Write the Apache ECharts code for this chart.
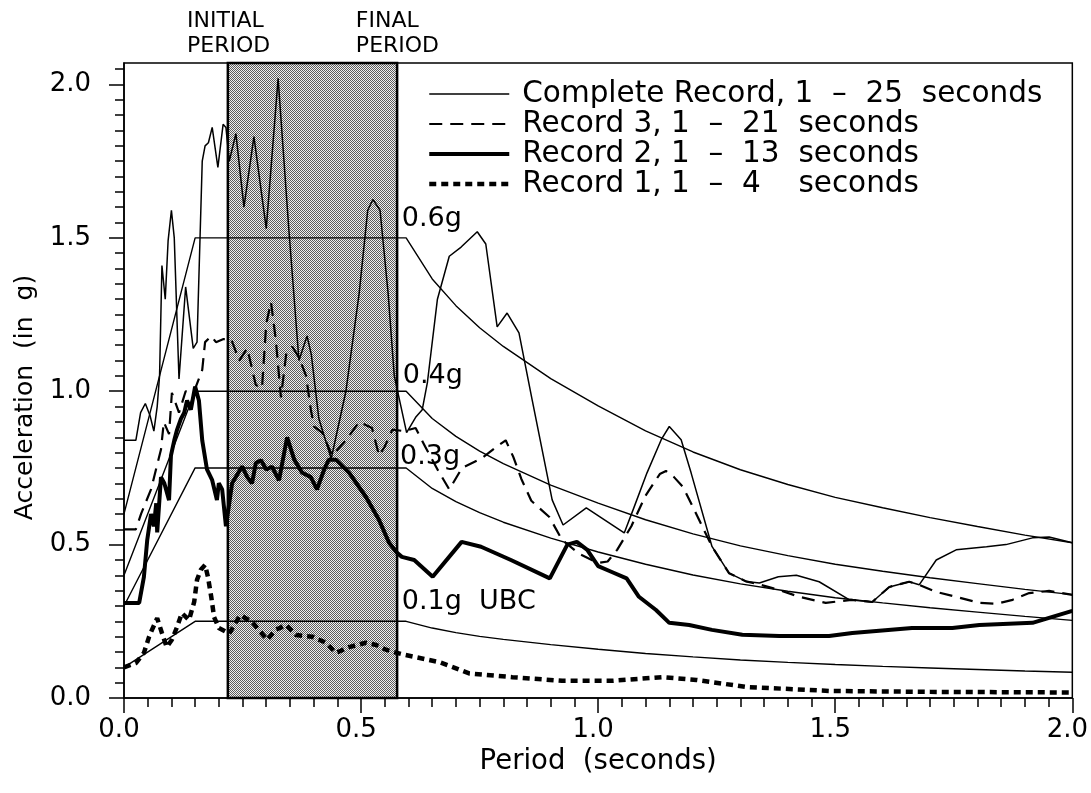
<!DOCTYPE html>
<html><head><meta charset="utf-8">
<script src="https://cdn.jsdelivr.net/npm/echarts@6/dist/echarts.min.js"></script>
<style>html,body{margin:0;padding:0;background:#fff}#c{width:1091px;height:793px}</style>
</head><body><div id="c"></div>
<script>
// ---- data ----
const completeT = [0,0.025,0.035,0.045,0.055,0.063,0.07,0.075,0.08,0.087,0.093,0.1,0.106,0.116,0.13,0.146,0.154,0.165,0.171,0.178,0.186,0.198,0.209,0.215,0.222,0.236,0.253,0.274,0.3,0.325,0.348,0.369,0.386,0.395,0.411,0.437,0.468,0.496,0.514,0.525,0.54,0.557,0.57,0.596,0.616,0.629,0.64,0.661,0.686,0.711,0.745,0.763,0.787,0.808,0.833,0.861,0.903,0.926,0.975,1.055,1.076,1.103,1.133,1.15,1.175,1.196,1.24,1.276,1.312,1.34,1.38,1.418,1.466,1.53,1.578,1.614,1.656,1.677,1.713,1.755,1.819,1.86,1.916,1.951,2.0];
const completeA = [0.84,0.84,0.93,0.96,0.92,0.87,0.95,1.05,1.41,1.30,1.49,1.59,1.50,1.04,1.34,1.14,1.16,1.75,1.80,1.81,1.86,1.73,1.87,1.86,1.75,1.84,1.60,1.83,1.53,2.02,1.52,1.10,1.18,1.12,0.91,0.78,1.00,1.32,1.59,1.625,1.59,1.32,1.05,0.865,0.917,0.94,1.03,1.30,1.44,1.47,1.52,1.48,1.21,1.255,1.19,0.97,0.646,0.564,0.62,0.538,0.623,0.734,0.842,0.885,0.842,0.734,0.494,0.407,0.38,0.375,0.395,0.40,0.379,0.32,0.313,0.362,0.379,0.369,0.45,0.483,0.493,0.50,0.522,0.525,0.506];

const rec3T = [0,0.025,0.036,0.057,0.078,0.084,0.095,0.101,0.116,0.13,0.148,0.165,0.171,0.184,0.194,0.21,0.226,0.243,0.26,0.278,0.291,0.3,0.31,0.32,0.331,0.342,0.355,0.369,0.384,0.394,0.401,0.418,0.439,0.468,0.496,0.523,0.538,0.55,0.566,0.59,0.615,0.635,0.663,0.686,0.713,0.753,0.791,0.805,0.821,0.838,0.859,0.897,0.924,0.96,1.0,1.02,1.04,1.07,1.1,1.13,1.143,1.16,1.179,1.21,1.24,1.276,1.312,1.34,1.382,1.424,1.48,1.534,1.578,1.614,1.656,1.677,1.713,1.762,1.804,1.84,1.874,1.909,1.951,2.0];
const rec3A = [0.55,0.55,0.60,0.68,0.81,0.90,0.86,0.995,0.93,1.0,1.0,1.07,1.16,1.18,1.16,1.17,1.17,1.10,1.14,1.02,1.01,1.22,1.29,1.17,0.98,1.12,1.145,1.11,1.05,0.94,0.885,0.865,0.79,0.84,0.90,0.88,0.79,0.82,0.875,0.87,0.88,0.82,0.74,0.68,0.75,0.78,0.825,0.84,0.786,0.714,0.643,0.59,0.515,0.47,0.44,0.445,0.483,0.56,0.66,0.73,0.74,0.72,0.688,0.59,0.494,0.407,0.38,0.37,0.352,0.33,0.31,0.32,0.313,0.362,0.379,0.369,0.346,0.327,0.31,0.307,0.32,0.342,0.349,0.336];

const rec2T = [0,0.032,0.042,0.049,0.057,0.063,0.068,0.07,0.078,0.085,0.095,0.099,0.106,0.112,0.12,0.127,0.133,0.141,0.15,0.158,0.165,0.175,0.186,0.196,0.2,0.207,0.215,0.228,0.249,0.26,0.27,0.278,0.289,0.3,0.312,0.327,0.344,0.359,0.376,0.394,0.407,0.422,0.432,0.447,0.475,0.51,0.538,0.559,0.576,0.586,0.612,0.651,0.712,0.753,0.816,0.898,0.935,0.955,0.977,1.0,1.03,1.06,1.086,1.122,1.15,1.192,1.24,1.304,1.382,1.487,1.536,1.662,1.747,1.804,1.916,2.0];
const rec2A = [0.31,0.31,0.395,0.515,0.60,0.56,0.635,0.54,0.72,0.70,0.645,0.79,0.84,0.875,0.91,0.93,0.97,0.94,1.015,0.97,0.84,0.745,0.71,0.645,0.70,0.68,0.56,0.70,0.755,0.72,0.70,0.766,0.775,0.745,0.754,0.71,0.85,0.777,0.734,0.72,0.68,0.744,0.777,0.777,0.734,0.656,0.58,0.506,0.473,0.46,0.45,0.395,0.509,0.493,0.45,0.39,0.50,0.509,0.483,0.43,0.41,0.39,0.33,0.287,0.245,0.238,0.222,0.206,0.202,0.202,0.212,0.228,0.228,0.238,0.245,0.284];

const rec1T = [0,0.025,0.042,0.053,0.059,0.07,0.08,0.09,0.101,0.112,0.122,0.137,0.148,0.154,0.162,0.171,0.177,0.184,0.19,0.2,0.222,0.245,0.27,0.302,0.32,0.342,0.363,0.397,0.426,0.447,0.475,0.51,0.532,0.553,0.576,0.594,0.665,0.728,0.819,0.924,1.03,1.135,1.207,1.312,1.487,1.7,2.0];
const rec1A = [0.10,0.114,0.147,0.20,0.222,0.26,0.212,0.166,0.19,0.232,0.277,0.254,0.313,0.385,0.418,0.434,0.395,0.33,0.264,0.228,0.21,0.27,0.248,0.19,0.222,0.238,0.205,0.20,0.18,0.147,0.166,0.18,0.173,0.157,0.147,0.14,0.117,0.08,0.068,0.056,0.056,0.068,0.059,0.036,0.023,0.02,0.018];

const ubcT  = [0,0.15,0.595,0.65,0.7,0.75,0.8,0.9,1.0,1.1,1.2,1.3,1.4,1.5,1.6,1.7,1.8,1.9,2.0];
const ubc06 = [0.6,1.5,1.5,1.366,1.279,1.207,1.146,1.041,0.952,0.871,0.802,0.744,0.696,0.654,0.62,0.588,0.559,0.531,0.506];
const ubc04 = [0.4,1.0,1.0,0.911,0.853,0.805,0.764,0.694,0.635,0.581,0.535,0.496,0.464,0.436,0.413,0.392,0.373,0.354,0.337];
const ubc03 = [0.3,0.75,0.75,0.683,0.64,0.604,0.573,0.521,0.476,0.436,0.401,0.372,0.348,0.327,0.31,0.294,0.28,0.266,0.253];
const ubc01 = [0.1,0.25,0.25,0.228,0.213,0.201,0.191,0.174,0.159,0.145,0.134,0.124,0.116,0.109,0.103,0.098,0.093,0.088,0.084];

const shadeBand = [0.219, 0.576];           // INITIAL .. FINAL period
const xMajorTicks = [0, 0.5, 1.0, 1.5, 2.0];
const yMajorTicks = [0, 0.5, 1.0, 1.5, 2.0];
const legendNames = ['Complete Record, 1  –  25  seconds','Record 3, 1  –  21  seconds','Record 2, 1  –  13  seconds','Record 1, 1  –  4    seconds'];
const ubcLabels = ['0.6g','0.4g','0.3g','0.1g  UBC'];

// ---- build ----
const zip = (t,a) => t.map((x,i)=>[x,a[i]]);
const xMinorTicks = []; for (let i=0;i<=40;i++) xMinorTicks.push(+(i*0.05).toFixed(2));
const yMinorTicks = []; for (let i=0;i<=41;i++) yMinorTicks.push(+(i*0.05).toFixed(2));

const pat = document.createElement('canvas'); pat.width = 2; pat.height = 2;
const pc = pat.getContext('2d');
pc.fillStyle = '#f0f0f0'; pc.fillRect(0,0,2,2);
pc.fillStyle = '#5c5c5c'; pc.fillRect(0,0,1,1); pc.fillRect(1,1,1,1);

const FONT = 'DejaVu Sans';
const blk = '#000';
const ubcSeries = (d) => ({type:'line', data: zip(ubcT,d), symbol:'none', silent:true, z:3,
  lineStyle:{color:blk, width:1.4}});

const chart = echarts.init(document.getElementById('c'), null, {renderer:'canvas'});
const option = {
  animation:false,
  backgroundColor:'#fff',
  grid:{left:124, right:18, top:63, bottom:95, show:true, borderColor:blk, borderWidth:1.5, backgroundColor:'transparent'},
  legend:{
    data: legendNames, orient:'vertical', left:422, top:74, itemWidth:80, itemHeight:12, itemGap:0,
    selectedMode:false,
    itemStyle:{opacity:0},
    lineStyle:{width:'inherit', type:'inherit', color:'inherit'},
    textStyle:{fontFamily:FONT, fontSize:29.5, color:blk, lineHeight:29, padding:[0,0,0,8]}
  },
  xAxis:[
    {type:'value', min:0, max:2, interval:0.5, position:'bottom',
     axisLine:{show:true, lineStyle:{color:blk, width:1.5}},
     axisTick:{show:true, customValues:xMajorTicks, length:15, lineStyle:{color:blk, width:1.5}},
     axisLabel:{customValues:xMajorTicks, formatter:v=>v.toFixed(1), color:blk, fontFamily:FONT, fontSize:26, margin:19, padding:[0,10,0,0]},
     splitLine:{show:false},
     name:'Period  (seconds)', nameLocation:'middle', nameGap:48,
     nameTextStyle:{fontFamily:FONT, fontSize:27.5, color:blk}},
    {type:'value', min:0, max:2, interval:0.05, position:'bottom',
     axisLine:{show:false}, axisTick:{show:true, customValues:xMinorTicks, length:9, lineStyle:{color:blk, width:1.5}},
     axisLabel:{show:false}, splitLine:{show:false}}
  ],
  yAxis:[
    {type:'value', min:0, max:2.07, interval:0.5, position:'left',
     axisLine:{show:true, lineStyle:{color:blk, width:1.5}},
     axisTick:{show:true, customValues:yMajorTicks, length:15, lineStyle:{color:blk, width:1.5}},
     axisLabel:{customValues:yMajorTicks, formatter:v=>v.toFixed(1), color:blk, fontFamily:FONT, fontSize:26, margin:33, showMaxLabel:true},
     splitLine:{show:false},
     name:'Acceleration  (in  g)', nameLocation:'middle', nameGap:86,
     nameTextStyle:{fontFamily:FONT, fontSize:25, color:blk, padding:[0,34,0,0]}},
    {type:'value', min:0, max:2.07, interval:0.05, position:'left', offset:0,
     axisLine:{show:false}, axisTick:{show:true, customValues:yMinorTicks, length:9, lineStyle:{color:blk, width:1.5}},
     axisLabel:{show:false}, splitLine:{show:false}}
  ],
  series:[
    {type:'line', name:'shade', data:[[shadeBand[0], 0]], symbol:'none', silent:true, z:1,
     lineStyle:{opacity:0},
     markArea:{silent:true, itemStyle:{color:{image:pat, repeat:'repeat'}, borderColor:blk, borderWidth:2.5},
       data:[[{xAxis:shadeBand[0]},{xAxis:shadeBand[1]}]]}},
    ubcSeries(ubc06), ubcSeries(ubc04), ubcSeries(ubc03), ubcSeries(ubc01),
    {type:'line', name:legendNames[0], data:zip(completeT,completeA), symbol:'none', z:5,
     lineStyle:{color:blk, width:1.5}, itemStyle:{color:blk}},
    {type:'line', name:legendNames[1], data:zip(rec3T,rec3A), symbol:'none', z:5,
     lineStyle:{color:blk, width:2.2, type:[13,8]}, itemStyle:{color:blk}},
    {type:'line', name:legendNames[2], data:zip(rec2T,rec2A), symbol:'none', z:5,
     lineStyle:{color:blk, width:4}, itemStyle:{color:blk}},
    {type:'line', name:legendNames[3], data:zip(rec1T,rec1A), symbol:'none', z:5,
     lineStyle:{color:blk, width:4.5, type:[7,5]}, itemStyle:{color:blk}}
  ]
};
chart.setOption(option);

// annotations anchored in data space
const P = (t,v) => chart.convertToPixel({seriesIndex:1}, [t,v]);
const ubcAnchors = [[0.586,1.563],[0.588,1.05],[0.582,0.786],[0.586,0.313]];
const txt = (text, p, size) => ({type:'text', x:p[0], y:p[1], z:20, silent:true,
  style:{text:text, font: size+'px "'+FONT+'"', fill:blk, align:'left', verticalAlign:'middle', textAlign:'left', textVerticalAlign:'middle'}});
const els = ubcLabels.map((s,i)=>txt(s, P(ubcAnchors[i][0], ubcAnchors[i][1]), 27));
const topY = P(0, 2.07)[1];
const xi = P(0.133, 0)[0], xf = P(0.489, 0)[0];
els.push(txt('INITIAL', [xi, topY-41.5], 22));
els.push(txt('PERIOD',  [xi, topY-16.5], 22));
els.push(txt('FINAL',   [xf, topY-41.5], 22));
els.push(txt('PERIOD',  [xf, topY-16.5], 22));
chart.setOption({graphic: els});
</script>
</body></html>
